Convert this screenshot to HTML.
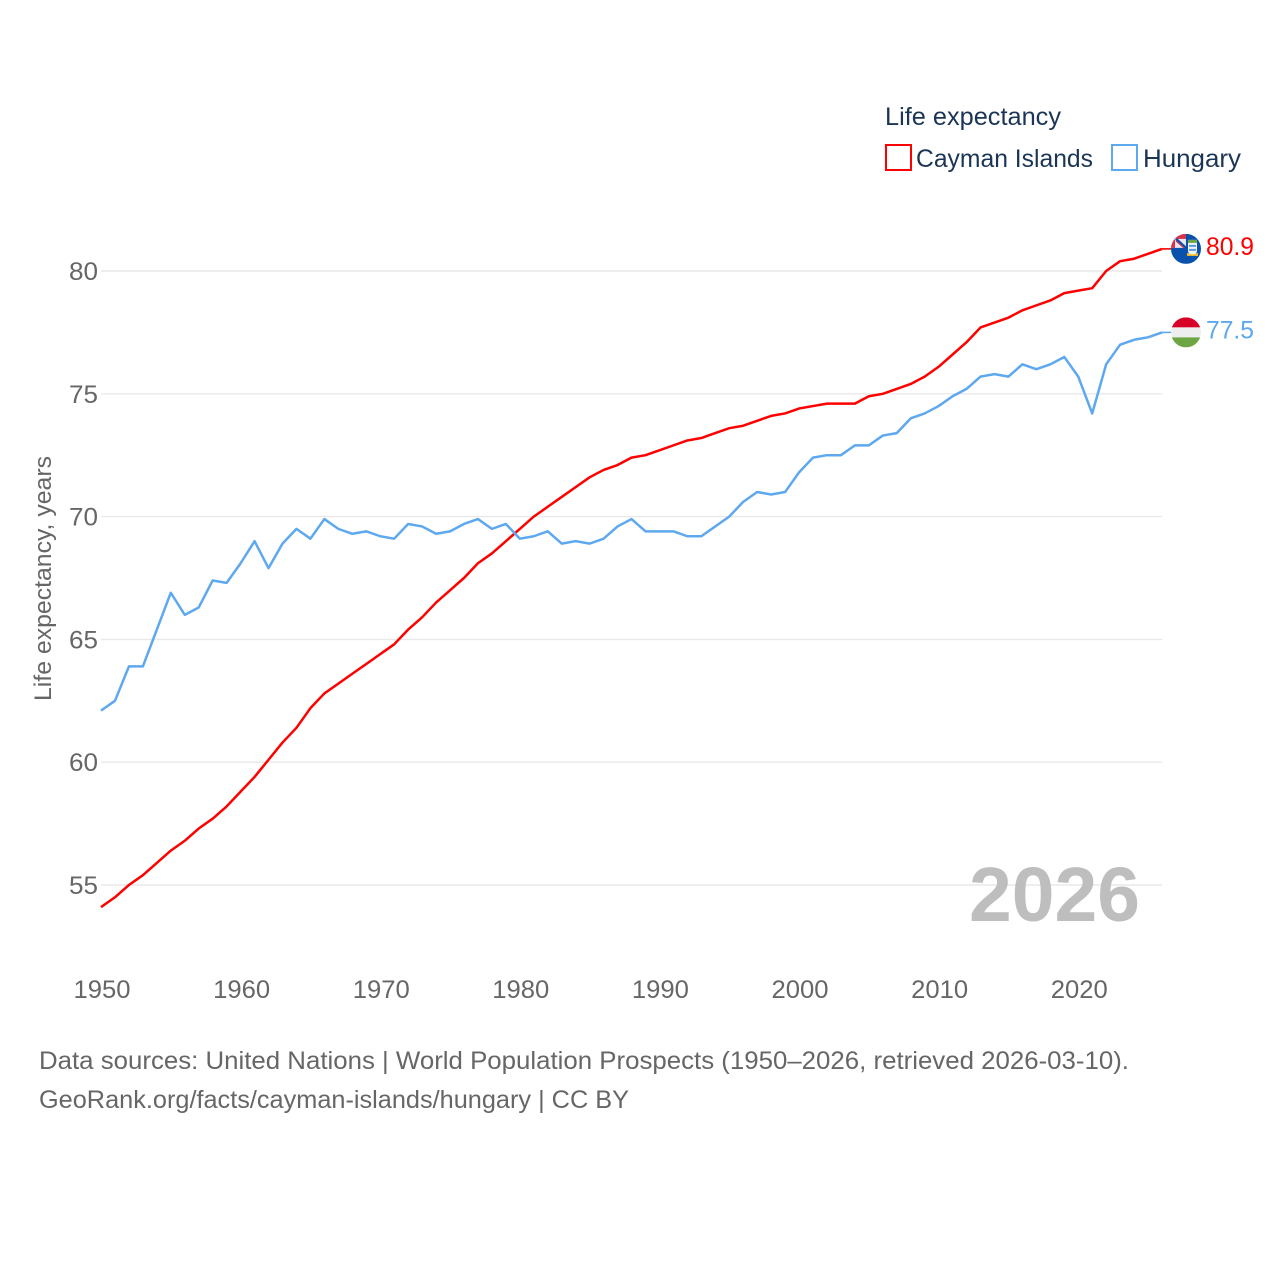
<!DOCTYPE html>
<html>
<head>
<meta charset="utf-8">
<title>Life expectancy: Cayman Islands vs Hungary</title>
<style>
html,body{margin:0;padding:0;background:#fff;width:1280px;height:1280px;overflow:hidden}
svg{display:block}
text{font-family:"Liberation Sans",sans-serif}
</style>
</head>
<body>
<svg id="chart" width="1280" height="1280" viewBox="0 0 1280 1280" xmlns="http://www.w3.org/2000/svg">
  <rect x="0" y="0" width="1280" height="1280" fill="#fff"/>
  <g id="grid"></g>
  <g id="yticks"></g>
  <g id="xticks"></g>
  <text transform="translate(51,701) rotate(-90)" font-size="24" fill="#666" textLength="245" lengthAdjust="spacingAndGlyphs">Life expectancy, years</text>
  <text x="969" y="921" font-size="77" font-weight="700" fill="#bebebe" textLength="171" lengthAdjust="spacingAndGlyphs">2026</text>
  <g id="series"></g>
  <g id="ends"></g>

  <g>
    <text x="885" y="125" font-size="25" fill="#1a3555" textLength="176" lengthAdjust="spacingAndGlyphs">Life expectancy</text>
    <rect x="886" y="145" width="25" height="25" fill="none" stroke="#ff0000" stroke-width="2"/>
    <text x="916" y="167" font-size="25" fill="#1a3555" textLength="177" lengthAdjust="spacingAndGlyphs">Cayman Islands</text>
    <rect x="1112" y="145" width="25" height="25" fill="none" stroke="#5da8ee" stroke-width="2"/>
    <text x="1143" y="167" font-size="25" fill="#1a3555" textLength="98" lengthAdjust="spacingAndGlyphs">Hungary</text>
  </g>

  <text x="39" y="1069" font-size="25" fill="#666" textLength="1090" lengthAdjust="spacingAndGlyphs">Data sources: United Nations | World Population Prospects (1950–2026, retrieved 2026-03-10).</text>
  <text x="39" y="1108" font-size="25" fill="#666" textLength="590" lengthAdjust="spacingAndGlyphs">GeoRank.org/facts/cayman-islands/hungary | CC BY</text>
</svg>
<script>
const startYear = 1950;
const caymanValues = [54.1,54.5,55.0,55.4,55.9,56.4,56.8,57.3,57.7,58.2,58.8,59.4,60.1,60.8,61.4,62.2,62.8,63.2,63.6,64.0,64.4,64.8,65.4,65.9,66.5,67.0,67.5,68.1,68.5,69.0,69.5,70.0,70.4,70.8,71.2,71.6,71.9,72.1,72.4,72.5,72.7,72.9,73.1,73.2,73.4,73.6,73.7,73.9,74.1,74.2,74.4,74.5,74.6,74.6,74.6,74.9,75.0,75.2,75.4,75.7,76.1,76.6,77.1,77.7,77.9,78.1,78.4,78.6,78.8,79.1,79.2,79.3,80.0,80.4,80.5,80.7,80.9];
const hungaryValues = [62.1,62.5,63.9,63.9,65.4,66.9,66.0,66.3,67.4,67.3,68.1,69.0,67.9,68.9,69.5,69.1,69.9,69.5,69.3,69.4,69.2,69.1,69.7,69.6,69.3,69.4,69.7,69.9,69.5,69.7,69.1,69.2,69.4,68.9,69.0,68.9,69.1,69.6,69.9,69.4,69.4,69.4,69.2,69.2,69.6,70.0,70.6,71.0,70.9,71.0,71.8,72.4,72.5,72.5,72.9,72.9,73.3,73.4,74.0,74.2,74.5,74.9,75.2,75.7,75.8,75.7,76.2,76.0,76.2,76.5,75.7,74.2,76.2,77.0,77.2,77.3,77.5];
const yTickValues = [55,60,65,70,75,80];
const xTickValues = [1950,1960,1970,1980,1990,2000,2010,2020];

const NS = 'http://www.w3.org/2000/svg';
function xScale(year){ return 101 + (year - 1950) * (1162 - 101) / 76; }
function yScale(v){ return 885 - (v - 55) * (885 - 271) / 25; }
function make(tag, attrs, parent){
  const el = document.createElementNS(NS, tag);
  for (const k in attrs) el.setAttribute(k, attrs[k]);
  parent.appendChild(el);
  return el;
}
const grid = document.getElementById('grid');
const yticks = document.getElementById('yticks');
const xticks = document.getElementById('xticks');
const series = document.getElementById('series');
const ends = document.getElementById('ends');

yTickValues.forEach(function(v){
  const line = make('line', {x1:101, x2:1162, y1:yScale(v), y2:yScale(v), stroke:'#e9e9e9', 'stroke-width':1.4}, grid);
  
  
  const t = make('text', {x:69, y:yScale(v) + 9, 'font-size':25, fill:'#666', textLength:29, lengthAdjust:'spacingAndGlyphs'}, yticks);
  
  
  t.textContent = v;
});
xTickValues.forEach(function(y){
  const t = make('text', {x:xScale(y) - 27.5, y:998, 'font-size':25, fill:'#666', textLength:57, lengthAdjust:'spacingAndGlyphs'}, xticks);
  
  
  t.textContent = y;
});

function drawLine(values, color, name){
  const pts = values.map(function(v, i){ return xScale(startYear + i).toFixed(2) + ',' + yScale(v).toFixed(2); });
  const lastY = yScale(values[values.length - 1]);
  const line = make('polyline', {points:pts.join(' '), fill:'none', stroke:color, 'stroke-width':2.5, 'stroke-linejoin':'round'}, series);
  
  
  const stub = make('line', {x1:xScale(startYear + values.length - 1), x2:xScale(startYear + values.length - 1) + 9, y1:lastY, y2:lastY, stroke:color, 'stroke-width':1.6}, series);
  
  
}
drawLine(caymanValues, '#ff0000', 'cayman-islands');
drawLine(hungaryValues, '#5da8ee', 'hungary');

function endLabel(values, color, name){
  const v = values[values.length - 1];
  const t = make('text', {x:1206, y:yScale(v) + 6, 'font-size':25, fill:color, textLength:48, lengthAdjust:'spacingAndGlyphs'}, ends);
  
  
  t.textContent = v.toFixed(1);
}
endLabel(caymanValues, '#ff0000', 'cayman-islands');
endLabel(hungaryValues, '#5da8ee', 'hungary');

/* Flags placed at each series' final value */
const cy1 = yScale(caymanValues[caymanValues.length - 1]);
const cy2 = yScale(hungaryValues[hungaryValues.length - 1]);
const cx = 1186, r = 15;
const defs = make('defs', {}, ends);
const clip1 = make('clipPath', {id:'clip-cayman'}, defs);
make('circle', {cx:cx, cy:cy1, r:r}, clip1);
const clip2 = make('clipPath', {id:'clip-hungary'}, defs);
make('circle', {cx:cx, cy:cy2, r:r}, clip2);

const f1 = make('g', {'clip-path':'url(#clip-cayman)'}, ends);


make('rect', {x:cx - r, y:cy1 - r, width:2 * r, height:2 * r, fill:'#0a51ad'}, f1);
make('rect', {x:cx - r, y:cy1 - r, width:r, height:r - 1, fill:'#e6e6ee'}, f1);
make('rect', {x:cx - r, y:cy1 - r, width:r, height:5, fill:'#d8324a'}, f1);
make('rect', {x:cx - r, y:cy1 - r, width:4, height:r - 1, fill:'#d8324a'}, f1);
make('line', {x1:cx - 10, y1:cy1 - 10, x2:cx, y2:cy1 - 1, stroke:'#0a51ad', 'stroke-width':2.5}, f1);
make('line', {x1:cx - 10, y1:cy1 - 8, x2:cx - 2, y2:cy1 - 1, stroke:'#d8324a', 'stroke-width':1.2}, f1);
make('path', {d:'M' + (cx + 2) + ' ' + (cy1 - 9) + 'h9v11q0 3 -4.5 5q-4.5 -2 -4.5 -5z', fill:'#f0f0f0'}, f1);
make('rect', {x:cx + 2, y:cy1 - 9, width:9, height:3, fill:'#6da544'}, f1);
make('rect', {x:cx + 3, y:cy1 - 4, width:7, height:2, fill:'#5a9bd8'}, f1);
make('rect', {x:cx + 3, y:cy1, width:7, height:2, fill:'#5a9bd8'}, f1);
make('path', {d:'M' + (cx + 1) + ' ' + (cy1 + 4) + 'q5.5 3 11 0v3h-11z', fill:'#ffc327'}, f1);

const f2 = make('g', {'clip-path':'url(#clip-hungary)'}, ends);


make('rect', {x:cx - r, y:cy2 - r, width:2 * r, height:10, fill:'#d80027'}, f2);
make('rect', {x:cx - r, y:cy2 - 5, width:2 * r, height:10, fill:'#eeeeee'}, f2);
make('rect', {x:cx - r, y:cy2 + 5, width:2 * r, height:10, fill:'#6da544'}, f2);
</script>
</body>
</html>
